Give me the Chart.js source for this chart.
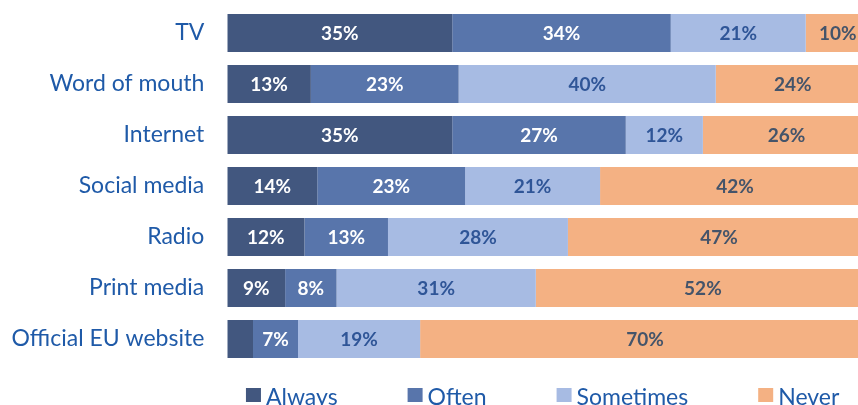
<!DOCTYPE html>
<html><head><meta charset="utf-8">
<script src="https://cdn.jsdelivr.net/npm/chart.js@4"></script>
<style>
html,body{margin:0;padding:0;overflow:hidden;background:#fff;width:858px;height:405px}
#wrap{position:absolute;left:0;top:0;width:870px;height:405px}
</style>
</head><body>
<div id="wrap"><canvas id="c"></canvas></div>
<script>
const categories = ['TV', 'Word of mouth', 'Internet', 'Social media', 'Radio', 'Print media', 'Official EU website'];
const seriesNames = ['Always', 'Often', 'Sometimes', 'Never'];
const always    = [35, 13, 35, 14, 12, 9, 4];
const often     = [34, 23, 27, 23, 13, 8, 7];
const sometimes = [21, 40, 12, 21, 28, 31, 19];
const never     = [10, 24, 26, 42, 47, 52, 70];

const fills = ['#42577F', '#5875AB', '#A7BBE3', '#F4B183'];
const labelColors = ['#FFFFFF', '#FFFFFF', '#2F5597', '#44546A'];
const textBlue = '#1F5AA8';
const FONT = 'Lato, "Open Sans", sans-serif';

const dataLabels = {
  id: 'dataLabels',
  afterDatasetsDraw(chart) {
    const ctx = chart.ctx;
    ctx.save();
    ctx.font = 'bold 19px ' + FONT;
    ctx.textAlign = 'center';
    ctx.textBaseline = 'middle';
    chart.data.datasets.forEach((ds, di) => {
      const meta = chart.getDatasetMeta(di);
      meta.data.forEach((bar, i) => {
        const v = ds.data[i];
        if (v < 5) return;
        ctx.fillStyle = labelColors[di];
        ctx.fillText(v + '%', (bar.x + bar.base) / 2, bar.y + 1);
      });
    });
    ctx.restore();
  }
};

const customLegend = {
  id: 'customLegend',
  afterDraw(chart) {
    const ctx = chart.ctx;
    const ca = chart.chartArea;
    ctx.save();
    ctx.font = '23px ' + FONT;
    ctx.textBaseline = 'alphabetic';
    const box = 15, gap = 5, spacing = 70;
    const items = chart.data.datasets.map(ds => ({ text: ds.label, color: ds.backgroundColor, w: ctx.measureText(ds.label).width }));
    const total = items.reduce((s, it) => s + box + gap + it.w, 0) + spacing * (items.length - 1);
    let x = (ca.left + ca.right) / 2 - 6 - total / 2;
    const baseline = 404.5;
    items.forEach(it => {
      ctx.fillStyle = it.color;
      ctx.fillRect(x, 388, box, 14);
      ctx.fillStyle = textBlue;
      ctx.fillText(it.text, x + box + gap, baseline);
      x += box + gap + it.w + spacing;
    });
    ctx.restore();
  }
};

const seriesValues = [always, often, sometimes, never];

new Chart(document.getElementById('c'), {
  type: 'bar',
  data: {
    labels: categories,
    datasets: seriesNames.map((name, i) => ({
      label: name,
      data: seriesValues[i],
      backgroundColor: fills[i],
      borderWidth: 0,
      categoryPercentage: 1,
      barPercentage: 0.745
    }))
  },
  options: {
    indexAxis: 'y',
    responsive: true,
    maintainAspectRatio: false,
    animation: false,
    layout: { padding: { top: 7.5, bottom: 40.5, left: 0, right: 0 } },
    plugins: { legend: { display: false }, tooltip: { enabled: false } },
    scales: {
      x: { stacked: true, min: 0, max: 100, display: false },
      y: {
        stacked: true,
        grid: { display: false, drawTicks: false },
        border: { display: false },
        ticks: { color: textBlue, font: { family: FONT, size: 23 }, padding: 23 },
        afterFit(scale) { scale.width = 227.3; scale.paddingTop = 0; scale.paddingBottom = 0; }
      }
    }
  },
  plugins: [dataLabels, customLegend]
});
</script>
</body></html>
